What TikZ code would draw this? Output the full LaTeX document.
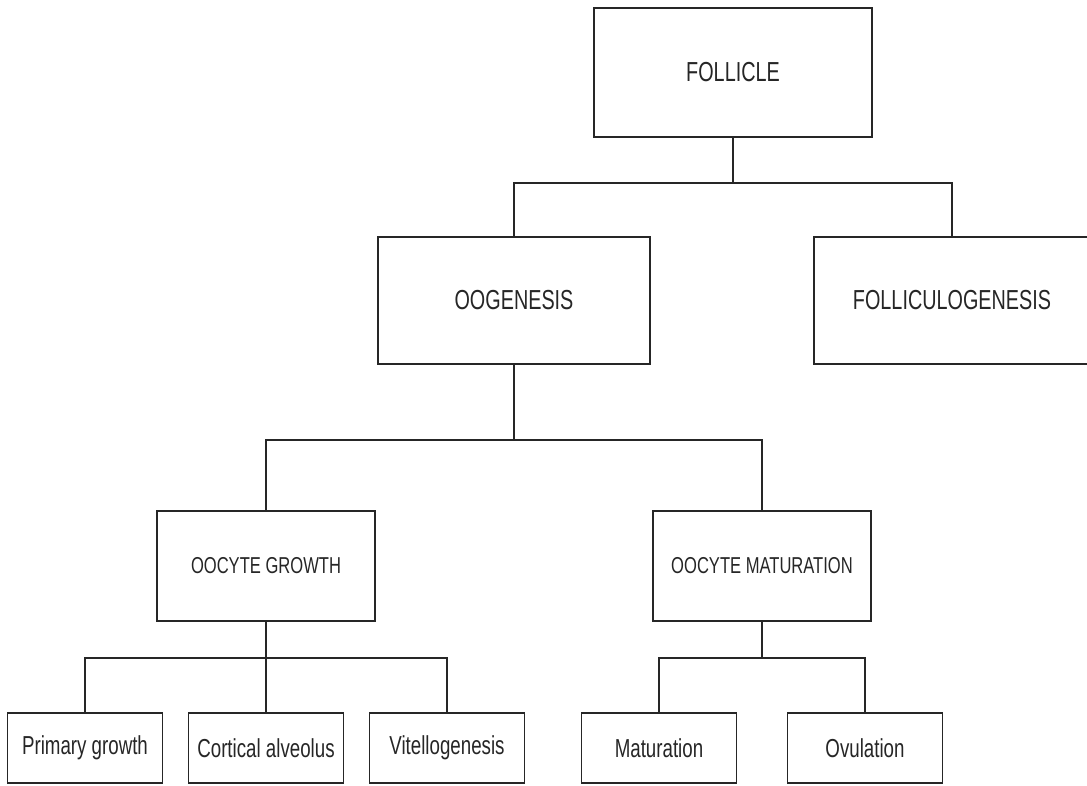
\documentclass[tikz,border=0pt]{standalone}
\usepackage{fontspec}
\setmainfont{Liberation Sans}[FakeStretch=0.72]

\begin{document}
\begin{tikzpicture}[x=1pt,y=1pt]
\tikzstyle{stage}=[rectangle,draw=black!85,line width=1.6pt,inner sep=0pt,text=black!85]
\tikzstyle{every node}=[stage]
\tikzstyle{topbox}=[minimum width=278pt,minimum height=129pt,font=\fontsize{27.5}{30}\selectfont]
\tikzstyle{bigbox}=[minimum width=272pt,minimum height=127pt,font=\fontsize{27.5}{30}\selectfont]
\tikzstyle{midbox}=[minimum width=218pt,minimum height=110pt,font=\fontsize{23}{26}\selectfont]
\tikzstyle{leafbox}=[minimum width=155pt,minimum height=70pt,font=\fontsize{26}{28}\selectfont]
\tikzstyle{edge from parent}=[draw,black!85,line width=1.6pt]
\tikzstyle{level 1}=[sibling distance=438pt,level distance=228pt,
  edge from parent path={(\tikzparentnode.south) -- +(0,-45pt) -| (\tikzchildnode.north)}]
\tikzstyle{level 2}=[sibling distance=496pt,level distance=265.5pt,
  edge from parent path={(\tikzparentnode.south) -- +(0,-75pt) -| (\tikzchildnode.north)}]
\tikzstyle{level 3}=[sibling distance=181pt,level distance=182pt,
  edge from parent path={(\tikzparentnode.south) -- +(0,-36pt) -| (\tikzchildnode.north)}]
\useasboundingbox (0,0) rectangle (1087,785);
\node[topbox] (follicle) at (733,712.5) {FOLLICLE}
  child {node[bigbox] (oogen) {OOGENESIS}
    child {node[midbox] (growth) {OOCYTE GROWTH}
      child {node[leafbox] (primary) {Primary growth}}
      child {node[leafbox] (cortical) {Cortical alveolus}}
      child {node[leafbox] (vitello) {Vitellogenesis}}
    }
    child {node[midbox] (matur) {OOCYTE MATURATION}
      child[sibling distance=206pt] {node[leafbox] (final) {Maturation}}
      child[sibling distance=206pt] {node[leafbox] (ovul) {Ovulation}}
    }
  }
  child {node[bigbox,minimum width=276pt] (follic) {FOLLICULOGENESIS}}
;
\end{tikzpicture}
\end{document}
